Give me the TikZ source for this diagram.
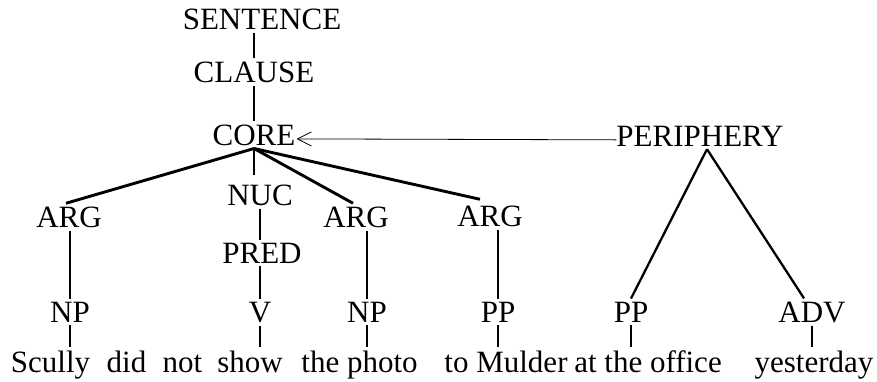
\documentclass[tikz,border=0pt]{standalone}
\usepackage{fontspec}
\setmainfont{Liberation Serif}
\usetikzlibrary{arrows.meta}
\begin{document}
\begin{tikzpicture}[x=1pt,y=-1pt,
        lbl/.style={anchor=base,inner xsep=0pt,inner ysep=3pt,font=\fontsize{31}{37}\selectfont},
        stem/.style={black,line width=2.3pt},
        branch/.style={black,line width=2.9pt},
        link/.style={black,line width=0.8pt,-{Straight Barb[length=14pt,width=14pt]}}]
            \useasboundingbox (0,0) rectangle (877,381);
            % layers of the clause
            \node[lbl] (sentence) at(262,29) {SENTENCE};
            \node[lbl] (clause) at(254,82) {CLAUSE};
            \node[lbl] (core) at(254,145) {CORE};
            \node[lbl] (periphery) at(700,146) {PERIPHERY};
            \node[lbl] (nuc) at(260,205) {NUC};
            \node[lbl] (arga) at(69,227) {ARG};
            \node[lbl] (argb) at(356,227) {ARG};
            \node[lbl] (argc) at(490,226) {ARG};
            \node[lbl] (pred) at(262,263) {PRED};
            % phrases
            \node[lbl] (npa) at(70,322) {NP};
            \node[lbl] (verb) at(260,322) {V};
            \node[lbl] (npb) at(367,322) {NP};
            \node[lbl] (ppa) at(498,322) {PP};
            \node[lbl] (ppb) at(631,322) {PP};
            \node[lbl] (adv) at(812,322) {ADV};
            % words
            \node[lbl] (scully) at(50.5,372) {Scully};
            \node[lbl] (did) at(126.5,372) {did};
            \node[lbl] (not) at(182.5,372) {not};
            \node[lbl] (show) at(250,372) {show};
            \node[lbl] (photo) at(359.5,372) {the photo};
            \node[lbl] (mulder) at(506,372) {to Mulder};
            \node[lbl] (office) at(648,372) {at the office};
            \node[lbl] (yesterday) at(814,372) {yesterday};
            % lines
            \draw[stem] (clause.north |- sentence.south) -- (clause.north);
            \draw[stem] (core.north |- clause.south) -- (core.north);
            \draw[link] ([yshift=-4pt]periphery.west) -- ([xshift=1pt,yshift=-4pt]core.east);
            \draw[branch] (core.south) -- ([xshift=-3pt]arga.north);
            \draw[stem] (core.south) -- ([yshift=6pt]core.south |- nuc.north);
            \draw[branch] (core.south) -- ([xshift=-3pt]argb.north);
            \draw[branch] (core.south) -- ([xshift=-10pt,yshift=3pt]argc.north);
            \draw[stem] ([xshift=7pt]periphery.south) -- (ppb.north);
            \draw[stem] ([xshift=7pt]periphery.south) -- ([xshift=-8pt]adv.north);
            \draw[stem] (nuc.south) -- (nuc.south |- pred.north);
            \draw[stem] (npa.north |- arga.south) -- (npa.north);
            \draw[stem] (verb.north |- pred.south) -- (verb.north);
            \draw[stem] (npb.north |- argb.south) -- (npb.north);
            \draw[stem] (ppa.north |- argc.south) -- (ppa.north);
            \draw[stem] (npa.south) -- (npa.south |- scully.north);
            \draw[stem] (verb.south) -- (verb.south |- show.north);
            \draw[stem] (npb.south) -- (npb.south |- photo.north);
            \draw[stem] (ppa.south) -- (ppa.south |- mulder.north);
            \draw[stem] (ppb.south) -- (ppb.south |- office.north);
            \draw[stem] (adv.south) -- (adv.south |- yesterday.north);
        \end{tikzpicture}
\end{document}
